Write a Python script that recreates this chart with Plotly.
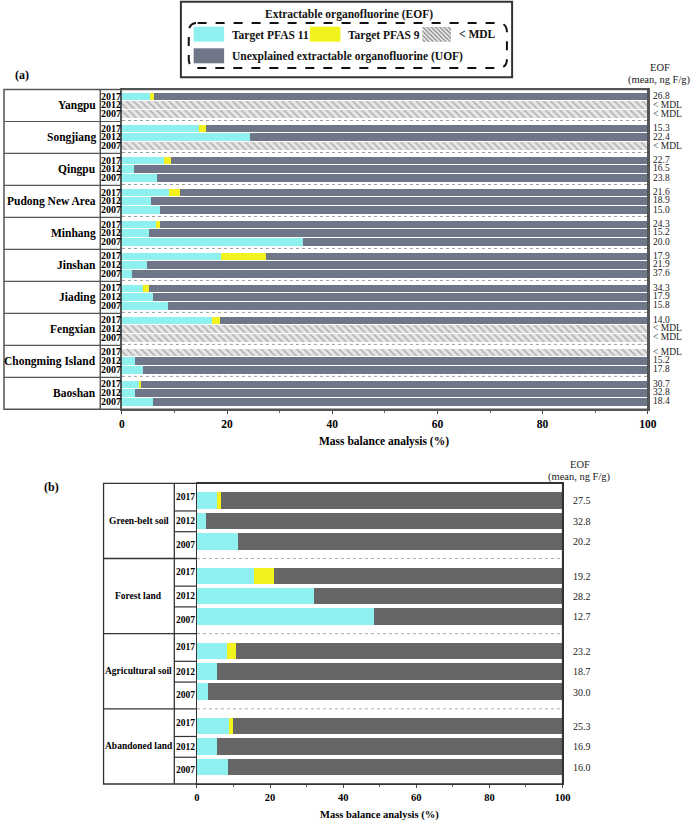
import plotly.graph_objects as go

W, H = 700, 823
def px(x):
    return x / W
def py(y):
    return 1 - y / H

FONT = "Times New Roman, Liberation Serif, serif"

# ---------------- data ----------------
years = ["2017", "2012", "2007"]

regions_a = ["Yangpu", "Songjiang", "Qingpu", "Pudong New Area", "Minhang",
             "Jinshan", "Jiading", "Fengxian", "Chongming Island", "Baoshan"]
# None = < MDL
pfas11_a = [[5.4, None, None], [14.6, 24.4, None], [7.9, 2.2, 6.7],
            [9.0, 5.5, 7.3], [6.4, 5.2, 34.5], [18.8, 4.8, 1.9],
            [3.9, 5.8, 8.7], [17.1, None, None], [None, 2.5, 3.9],
            [3.2, 2.5, 5.8]]
pfas9_a = [[0.7, None, None], [1.4, 0, None], [1.4, 0, 0],
           [2.0, 0, 0], [0.8, 0, 0], [8.5, 0, 0],
           [1.2, 0, 0], [1.6, None, None], [None, 0, 0],
           [0.5, 0, 0]]
eof_a = [["26.8", "< MDL", "< MDL"], ["15.3", "22.4", "< MDL"], ["22.7", "16.5", "23.8"],
         ["21.6", "18.9", "15.0"], ["24.3", "15.2", "20.0"], ["17.9", "21.9", "37.6"],
         ["34.3", "17.9", "15.8"], ["14.0", "< MDL", "< MDL"], ["< MDL", "15.2", "17.8"],
         ["30.7", "32.8", "18.4"]]

regions_b = ["Green-belt soil", "Forest land", "Agricultural soil", "Abandoned land"]
pfas11_b = [[5.6, 2.5, 11.2], [15.5, 32.1, 48.3], [8.3, 5.4, 3.1], [8.7, 5.5, 8.5]]
pfas9_b = [[0.9, 0, 0], [5.5, 0, 0], [2.4, 0, 0], [1.2, 0, 0]]
eof_b = [["27.5", "32.8", "20.2"], ["19.2", "28.2", "12.7"],
         ["23.2", "18.7", "30.0"], ["25.3", "16.9", "16.0"]]

CYAN = "#8FF0F0"
YELLOW = "#F2F21C"
SLATE = "#6E7687"
DGRAY = "#666666"
LINE = "#555555"

fig = go.Figure()

# ---------------- panel (a) bars ----------------
off_a = [0.206, 0.47, 0.753]
ya, c_a, y_a, g_a, m_a = [], [], [], [], []
for gi in range(len(regions_a)):
    for k in range(3):
        ya.append(gi + off_a[k])
        p11 = pfas11_a[gi][k]
        p9 = pfas9_a[gi][k]
        if p11 is None:
            c_a.append(None); y_a.append(None); g_a.append(None); m_a.append(100)
        else:
            c_a.append(p11); y_a.append(p9 if p9 else None)
            g_a.append(100 - p11 - (p9 or 0)); m_a.append(None)

def hbar(x, y, color, xa, yaa, width, pattern=None):
    marker = dict(color=color, line=dict(width=0))
    if pattern:
        marker["pattern"] = pattern
    return go.Bar(x=x, y=y, orientation="h", marker=marker, width=width,
                  xaxis=xa, yaxis=yaa, showlegend=False, hoverinfo="skip")

hatch = dict(shape="\\", fgcolor="#7a7a7a", bgcolor="#e6e6e6", size=5, solidity=0.3)
fig.add_trace(hbar(c_a, ya, CYAN, "x", "y", 0.24))
fig.add_trace(hbar(y_a, ya, YELLOW, "x", "y", 0.24))
fig.add_trace(hbar(g_a, ya, SLATE, "x", "y", 0.24))
fig.add_trace(hbar(m_a, ya, "#e6e6e6", "x", "y", 0.24, hatch))

# ---------------- panel (b) bars ----------------
off_b = [0.235, 0.505, 0.777]
yb, c_b, y_b, g_b = [], [], [], []
for gi in range(len(regions_b)):
    for k in range(3):
        yb.append(gi + off_b[k])
        p11 = pfas11_b[gi][k]
        p9 = pfas9_b[gi][k]
        c_b.append(p11); y_b.append(p9 if p9 else None)
        g_b.append(100 - p11 - p9)
fig.add_trace(hbar(c_b, yb, CYAN, "x2", "y2", 0.22))
fig.add_trace(hbar(y_b, yb, YELLOW, "x2", "y2", 0.22))
fig.add_trace(hbar(g_b, yb, DGRAY, "x2", "y2", 0.22))

# legend hatch swatch
fig.add_trace(hbar([1], [0], "white", "x3", "y3", 1,
                   dict(shape="\\", fgcolor="#2a2a2a", bgcolor="#f4f4f4", size=3, solidity=0.5)))

shapes = []
ann = []

# ---------------- panel (a) table ----------------
A_TOP, A_BOT, A_L, A_R = 89.5, 409.3, 1, 656
shapes.append(dict(type="rect", xref="paper", yref="paper", x0=px(A_L), x1=px(A_R),
                   y0=py(A_BOT), y1=py(A_TOP), line=dict(color=LINE, width=1.5)))
shapes.append(dict(type="line", xref="paper", yref="paper", x0=px(99), x1=px(99),
                   y0=py(A_BOT), y1=py(A_TOP), line=dict(color=LINE, width=1.5)))
for gi in range(1, len(regions_a)):
    shapes.append(dict(type="line", xref="paper", yref="y", x0=px(A_L), x1=px(121),
                       y0=gi, y1=gi, line=dict(color=LINE, width=1.2)))
    shapes.append(dict(type="line", xref="x", yref="y", x0=0, x1=100,
                       y0=gi - 0.03, y1=gi - 0.03, line=dict(color="#9a9a9a", width=1, dash="dot")))
for gi, r in enumerate(regions_a):
    ann.append(dict(text="<b>%s</b>" % r, xref="paper", yref="y", x=px(97), y=gi + 0.5,
                    xanchor="right", yanchor="middle", showarrow=False,
                    font=dict(family=FONT, size=11.5, color="black")))
    for k in range(3):
        ann.append(dict(text="<b>%s</b>" % years[k], xref="paper", yref="y", x=px(110),
                        y=gi + off_a[k], xanchor="center", yanchor="middle", showarrow=False,
                        font=dict(family=FONT, size=10, color="black")))
        ann.append(dict(text=eof_a[gi][k].replace("<", "&lt;"), xref="paper", yref="y",
                        x=px(659), y=gi + off_a[k], xanchor="left", yanchor="middle",
                        showarrow=False, font=dict(family=FONT, size=9.5, color="#222")))
ann.append(dict(text="EOF", xref="paper", yref="paper", x=px(668), y=py(67),
                xanchor="center", yanchor="middle", showarrow=False,
                font=dict(family=FONT, size=10.5, color="#222")))
ann.append(dict(text="(mean, ng F/g)", xref="paper", yref="paper", x=px(668), y=py(80),
                xanchor="center", yanchor="middle", showarrow=False,
                font=dict(family=FONT, size=10.5, color="#222")))
ann.append(dict(text="<b>(a)</b>", xref="paper", yref="paper", x=px(19), y=py(75),
                xanchor="center", yanchor="middle", showarrow=False,
                font=dict(family=FONT, size=12, color="black")))
ann.append(dict(text="<b>Mass balance analysis (%)</b>", xref="paper", yref="paper",
                x=px(388), y=py(441), xanchor="center", yanchor="middle", showarrow=False,
                font=dict(family=FONT, size=11.5, color="black")))

# ---------------- panel (b) table ----------------
B_TOP, B_BOT, B_L, B_R = 483.3, 784, 102.3, 569.3
shapes.append(dict(type="rect", xref="paper", yref="paper", x0=px(B_L), x1=px(B_R),
                   y0=py(B_BOT), y1=py(B_TOP), line=dict(color="#333", width=1.3)))
shapes.append(dict(type="line", xref="paper", yref="paper", x0=px(174.3), x1=px(174.3),
                   y0=py(B_BOT), y1=py(B_TOP), line=dict(color="#333", width=1.3)))
cell_lines = [0.368, 0.644]
year_pos_b = [0.183, 0.505, 0.82]
for gi in range(len(regions_b)):
    if gi > 0:
        shapes.append(dict(type="line", xref="paper", yref="y2", x0=px(B_L), x1=px(197.3),
                           y0=gi, y1=gi, line=dict(color="#333", width=1.3)))
        shapes.append(dict(type="line", xref="x2", yref="y2", x0=0, x1=100,
                           y0=gi, y1=gi, line=dict(color="#aaaaaa", width=1, dash="dot")))
    for cl in cell_lines:
        shapes.append(dict(type="line", xref="paper", yref="y2", x0=px(174.3), x1=px(197.3),
                           y0=gi + cl, y1=gi + cl, line=dict(color="#333", width=1.2)))
    ann.append(dict(text="<b>%s</b>" % regions_b[gi], xref="paper", yref="y2",
                    x=px(138.3), y=gi + 0.5, xanchor="center", yanchor="middle",
                    showarrow=False, font=dict(family=FONT, size=9.5, color="black")))
    for k in range(3):
        ann.append(dict(text="<b>%s</b>" % years[k], xref="paper", yref="y2", x=px(186),
                        y=gi + year_pos_b[k], xanchor="center", yanchor="middle",
                        showarrow=False, font=dict(family=FONT, size=9.5, color="black")))
        ann.append(dict(text=eof_b[gi][k], xref="paper", yref="y2", x=px(578),
                        y=gi + off_b[k], xanchor="left", yanchor="middle", showarrow=False,
                        font=dict(family=FONT, size=10, color="#222")))
ann.append(dict(text="EOF", xref="paper", yref="paper", x=px(587), y=py(464),
                xanchor="center", yanchor="middle", showarrow=False,
                font=dict(family=FONT, size=10.5, color="#222")))
ann.append(dict(text="(mean, ng F/g)", xref="paper", yref="paper", x=px(587), y=py(477),
                xanchor="center", yanchor="middle", showarrow=False,
                font=dict(family=FONT, size=10.5, color="#222")))
ann.append(dict(text="<b>(b)</b>", xref="paper", yref="paper", x=px(49), y=py(487),
                xanchor="center", yanchor="middle", showarrow=False,
                font=dict(family=FONT, size=12, color="black")))
ann.append(dict(text="<b>Mass balance analysis (%)</b>", xref="paper", yref="paper",
                x=px(383), y=py(815), xanchor="center", yanchor="middle", showarrow=False,
                font=dict(family=FONT, size=10.5, color="black")))

# ---------------- legend ----------------
shapes.append(dict(type="rect", xref="paper", yref="paper", x0=px(181), x1=px(518),
                   y0=py(77.3), y1=py(1.7), line=dict(color="#333", width=2)))
x0, x1, top, bot = px(189), px(512.7), py(23), py(68)
rx, ry = 9 / W, 9 / H
path = (f"M {x0+rx},{top} L {x1-rx},{top} Q {x1},{top} {x1},{top-ry} "
        f"L {x1},{bot+ry} Q {x1},{bot} {x1-rx},{bot} L {x0+rx},{bot} "
        f"Q {x0},{bot} {x0},{bot+ry} L {x0},{top-ry} Q {x0},{top} {x0+rx},{top} Z")
shapes.append(dict(type="path", xref="paper", yref="paper", path=path,
                   line=dict(color="#111", width=2, dash="dash")))
for (sx0, sy0, sx1, sy1, col) in [(194, 26.7, 225, 41.7, CYAN), (312.3, 26.7, 343.3, 41.7, YELLOW),
                                   (194, 48.3, 225, 63.3, SLATE)]:
    shapes.append(dict(type="rect", xref="paper", yref="paper", x0=px(sx0), x1=px(sx1),
                       y0=py(sy1), y1=py(sy0), fillcolor=col, line=dict(width=0)))
leg_font = dict(family=FONT, size=11.5, color="#111")
ann.append(dict(text="<b>Extractable organofluorine (EOF)</b>", xref="paper", yref="paper",
                x=px(352), y=py(15), xanchor="center", yanchor="middle", showarrow=False,
                font=leg_font))
for (tx, ty, t) in [(231, 35, "Target PFAS 11"), (349, 35, "Target PFAS 9"),
                    (462, 34, "&lt; MDL"), (231, 57, "Unexplained extractable organofluorine (UOF)")]:
    ann.append(dict(text="<b>%s</b>" % t, xref="paper", yref="paper", x=px(tx), y=py(ty),
                    xanchor="left", yanchor="middle", showarrow=False, font=leg_font))

# ---------------- axes ----------------
tickfont_a = dict(family=FONT, size=11.5, color="black", weight="bold")
tickfont_b = dict(family=FONT, size=10.5, color="black", weight="bold")
common_x = dict(range=[0, 100], tickvals=[0, 20, 40, 60, 80, 100], ticks="outside",
                ticklen=3, tickwidth=1, tickcolor="#444", showgrid=False, zeroline=False,
                showline=True, mirror=True, fixedrange=True,
                minor=dict(ticks="outside", ticklen=2, tickcolor="#666", dtick=10, tick0=0))
fig.update_layout(
    width=W, height=H, margin=dict(l=0, r=0, t=0, b=0), autosize=False,
    paper_bgcolor="white", plot_bgcolor="white", barmode="stack", bargap=0,
    showlegend=False,
    xaxis=dict(domain=[px(121), px(656)], anchor="y", tickfont=tickfont_a,
               linecolor=LINE, linewidth=1.5, **common_x),
    yaxis=dict(domain=[py(A_BOT), py(A_TOP)], anchor="x", range=[10, 0], showticklabels=False,
               ticks="", showgrid=False, zeroline=False, showline=True, mirror=True,
               linecolor=LINE, linewidth=1.5),
    xaxis2=dict(domain=[px(197.3), px(B_R)], anchor="y2", tickfont=tickfont_b,
                linecolor="#333", linewidth=1.3, **common_x),
    yaxis2=dict(domain=[py(B_BOT), py(B_TOP)], anchor="x2", range=[4, 0], showticklabels=False,
                ticks="", showgrid=False, zeroline=False, showline=True, mirror=True,
                linecolor="#333", linewidth=1.3),
    xaxis3=dict(domain=[px(426.7), px(456)], anchor="y3", range=[0, 1], visible=False),
    yaxis3=dict(domain=[py(41.7), py(26.7)], anchor="x3", range=[-0.5, 0.5], visible=False),
    shapes=shapes, annotations=ann,
)

fig.write_html("out.html")
